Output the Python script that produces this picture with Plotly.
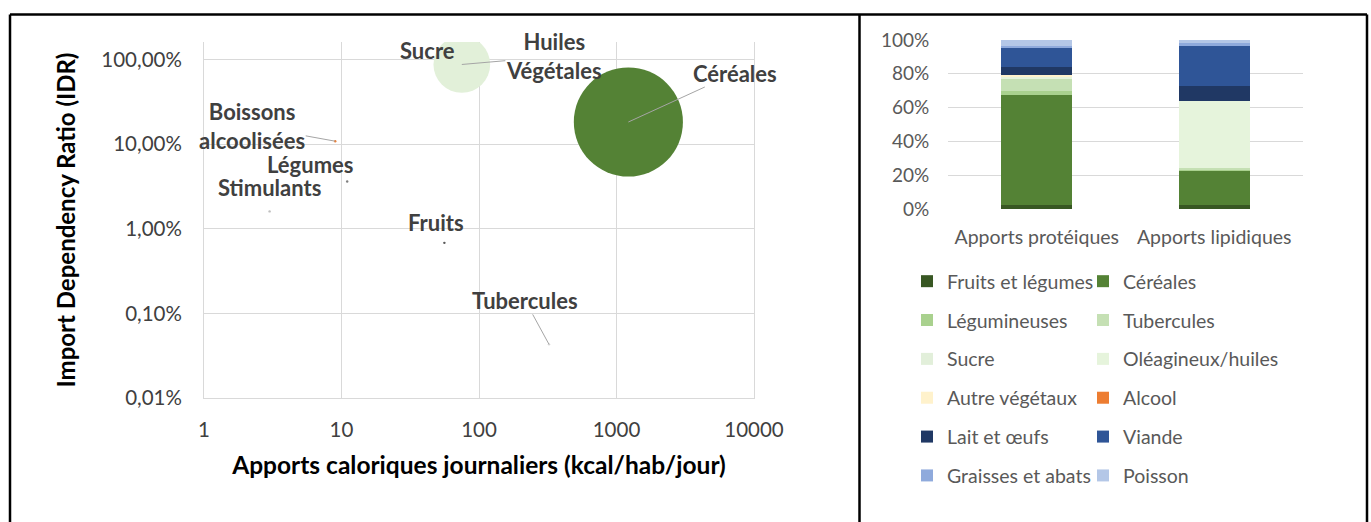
import math

import plotly.graph_objects as go

# Bubble chart: import dependency ratio vs daily calorie intake
produits = ["Céréales", "Sucre", "Huiles<br>Végétales", "Boissons<br>alcoolisées",
            "Légumes", "Stimulants", "Fruits", "Tubercules"]
apports_kcal = [1220, 55, 75, 9, 11, 3, 56, 323]
idr = [0.182, 0.80, 0.87, 0.108, 0.036, 0.016, 0.0068, 0.00043]
taille_bulle = [100, 0.05, 27, 0.05, 0.05, 0.05, 0.05, 0.05]

x_ticks = [1, 10, 100, 1000, 10000]
x_ticktext = ["1", "10", "100", "1000", "10000"]
y_ticks = [1, 0.1, 0.01, 0.001, 0.0001]
y_ticktext = ["100,00%", "10,00%", "1,00%", "0,10%", "0,01%"]

# Stacked 100% bars: share of protein / fat intake by food group
apports = ["Apports protéiques", "Apports lipidiques"]
groupes = ["Fruits et légumes", "Céréales", "Légumineuses", "Tubercules", "Sucre",
           "Oléagineux/huiles", "Autre végétaux", "Alcool", "Lait et œufs", "Viande",
           "Graisses et abats", "Poisson"]
part_proteiques = [2.5, 65, 2.5, 7, 0.5, 0.5, 1.5, 0, 4.5, 11, 1.5, 3.5]
part_lipidiques = [2.5, 20, 1, 1, 0, 39.5, 0, 0, 8.5, 24, 2, 1.5]
bar_ticks = [0, 20, 40, 60, 80, 100]
bar_ticktext = ["0%", "20%", "40%", "60%", "80%", "100%"]

W, H = 1371, 522
GRID = "#D9D9D9"
FONT = "Lato"

BUBBLE_COLORS = {
    "Céréales": "#548235",
    "Sucre": "#E2F0D9",
    "Huiles<br>Végétales": "#E2F0D9",
    "Boissons<br>alcoolisées": "#ED7D31",
    "Légumes": "#7F7F7F",
    "Stimulants": "#BFBFBF",
    "Fruits": "#595959",
    "Tubercules": "#D9D9D9",
}
# label offset in px from the point, and whether a leader line is drawn
LABEL_OFFSETS = {
    "Céréales": (107, -49, True),
    "Sucre": (-16, -17, False),
    "Huiles<br>Végétales": (92, -8, True),
    "Boissons<br>alcoolisées": (-83, -15, True),
    "Légumes": (-37, -17, False),
    "Stimulants": (0, -24, False),
    "Fruits": (-8, -20, False),
    "Tubercules": (-24, -44, True),
}
GROUP_COLORS = ["#385723", "#548235", "#A9D18E", "#C5E0B4", "#E2EFDA", "#E6F4DC",
                "#FFF2CC", "#ED7D31", "#203864", "#2F5597", "#8FAADC", "#B4C7E7"]


def px_x(px):
    return px / W


def px_y(py):
    return 1 - py / H


fig = go.Figure()

fig.add_trace(
    go.Scatter(
        x=apports_kcal,
        y=idr,
        mode="markers",
        marker={
            "size": taille_bulle,
            "sizemode": "area",
            "sizeref": 0.0168,
            "sizemin": 1.2,
            "color": [BUBBLE_COLORS[p] for p in produits],
            "opacity": 1,
            "line": {"width": 0},
        },
        showlegend=False,
        xaxis="x",
        yaxis="y",
        hovertemplate="%{x} kcal<br>IDR: %{y:.2%}<extra></extra>",
    )
)

for i, groupe in enumerate(groupes):
    fig.add_trace(
        go.Bar(
            x=apports,
            y=[part_proteiques[i], part_lipidiques[i]],
            name=groupe,
            marker={"color": GROUP_COLORS[i], "line": {"width": 0}},
            xaxis="x2",
            yaxis="y2",
            legend="legend" if i % 2 == 0 else "legend2",
            legendgroup=groupe,
            hovertemplate="%{x}<br>" + groupe + ": %{y}%<extra></extra>",
        )
    )

annotations = []
for produit, kcal, ratio in zip(produits, apports_kcal, idr):
    ax, ay, leader = LABEL_OFFSETS[produit]
    annotations.append(
        {
            "x": math.log10(kcal),
            "y": math.log10(ratio),
            "xref": "x",
            "yref": "y",
            "text": produit,
            "showarrow": True,
            "ax": ax,
            "ay": ay,
            "arrowhead": 0,
            "arrowwidth": 1,
            "standoff": 0,
            "borderpad": 0,
            "arrowcolor": "#A5A5A5" if leader else "rgba(0,0,0,0)",
            "font": {"family": FONT, "size": 22, "color": "#404040", "weight": "bold"},
        }
    )

# frame around the two panels
frame = [
    (px_x(10), px_y(14.5), px_x(10), px_y(H + 5)),
    (px_x(10), px_y(14.5), px_x(1367), px_y(14.5)),
    (px_x(1367), px_y(14.5), px_x(1367), px_y(H + 5)),
    (px_x(859.5), px_y(14.5), px_x(859.5), px_y(H + 5)),
]
shapes = [
    {"type": "line", "xref": "paper", "yref": "paper", "x0": x0, "y0": y0, "x1": x1, "y1": y1,
     "line": {"color": "black", "width": 2.5}}
    for x0, y0, x1, y1 in frame
]

legend_style = {
    "xanchor": "left",
    "yanchor": "top",
    "orientation": "v",
    "traceorder": "grouped",
    "tracegroupgap": 10.5,
    "bgcolor": "rgba(0,0,0,0)",
    "font": {"family": FONT, "size": 19.5, "color": "#595959"},
}

fig.update_layout(
    width=W,
    height=H,
    margin={"l": 0, "r": 0, "t": 0, "b": 0},
    paper_bgcolor="white",
    plot_bgcolor="white",
    barmode="stack",
    bargap=0.6,
    font={"family": FONT},
    annotations=annotations,
    shapes=shapes,
    legend={**legend_style, "x": px_x(907), "y": px_y(262)},
    legend2={**legend_style, "x": px_x(1083), "y": px_y(262)},
    xaxis={
        "domain": [px_x(204), px_x(754)],
        "type": "log",
        "range": [0, 4],
        "tickvals": x_ticks,
        "ticktext": x_ticktext,
        "showgrid": True,
        "gridcolor": GRID,
        "showline": True,
        "linecolor": GRID,
        "zeroline": False,
        "ticks": "outside",
        "ticklen": 13,
        "tickcolor": "rgba(0,0,0,0)",
        "tickfont": {"family": FONT, "size": 20.5, "color": "#404040"},
        "title": {"text": "Apports caloriques journaliers (kcal/hab/jour)",
                  "font": {"family": FONT, "size": 24.5, "color": "black", "weight": "bold"},
                  "standoff": 17},
        "automargin": False,
        "fixedrange": True,
    },
    yaxis={
        "domain": [px_y(398), px_y(42)],
        "type": "log",
        "range": [-4, 0.205],
        "tickvals": y_ticks,
        "ticktext": y_ticktext,
        "showgrid": True,
        "gridcolor": GRID,
        "showline": True,
        "mirror": True,
        "linecolor": GRID,
        "zeroline": False,
        "ticks": "outside",
        "ticklen": 17,
        "tickcolor": "rgba(0,0,0,0)",
        "tickfont": {"family": FONT, "size": 20.5, "color": "#404040"},
        "title": {"text": "Import Dependency Ratio (IDR)",
                  "font": {"family": FONT, "size": 24, "color": "black", "weight": "bold"},
                  "standoff": 18},
        "automargin": False,
        "fixedrange": True,
    },
    xaxis2={
        "domain": [px_x(948), px_x(1303)],
        "anchor": "y2",
        "type": "category",
        "showgrid": False,
        "showline": False,
        "ticks": "outside",
        "ticklen": 11,
        "tickcolor": "rgba(0,0,0,0)",
        "tickfont": {"family": FONT, "size": 19.5, "color": "#595959"},
        "automargin": False,
        "fixedrange": True,
    },
    yaxis2={
        "domain": [px_y(209), px_y(40)],
        "anchor": "x2",
        "range": [0, 100],
        "tickvals": bar_ticks,
        "ticktext": bar_ticktext,
        "showgrid": True,
        "gridcolor": GRID,
        "zeroline": False,
        "showline": False,
        "ticks": "outside",
        "ticklen": 14,
        "tickcolor": "rgba(0,0,0,0)",
        "tickfont": {"family": FONT, "size": 19, "color": "#595959"},
        "automargin": False,
        "fixedrange": True,
    },
)

# the page body has a default 8px margin; drop it so the figure fills the window
fig.write_html(
    "out.html",
    config={"displayModeBar": False},
    post_script="document.body.style.margin = '0';",
)
